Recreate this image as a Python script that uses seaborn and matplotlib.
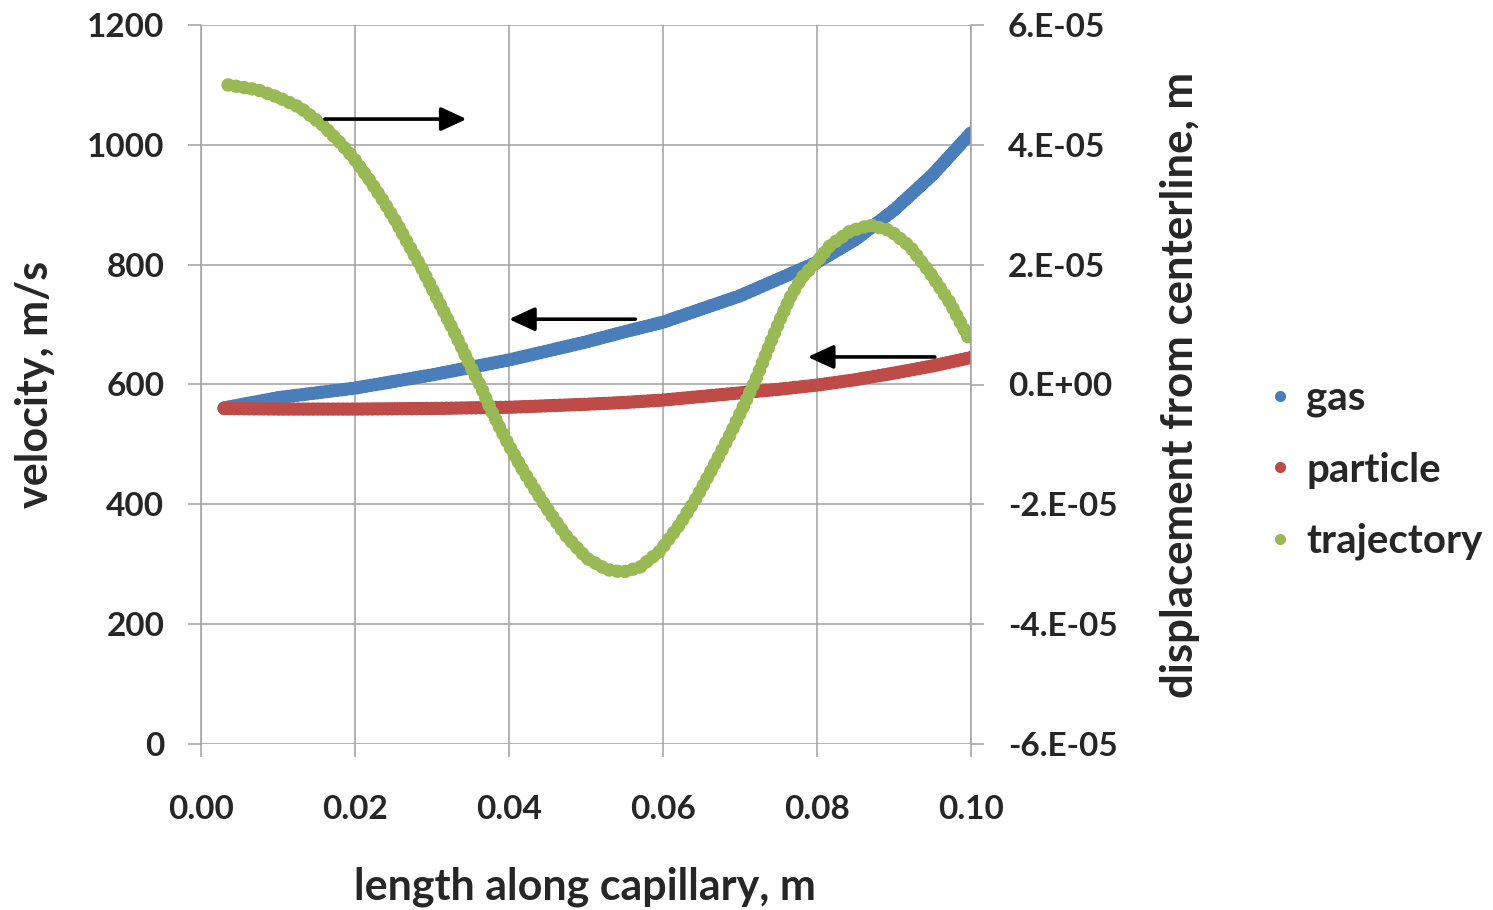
import matplotlib
matplotlib.use("Agg")
import matplotlib.pyplot as plt
from matplotlib.lines import Line2D
from matplotlib.ticker import FixedLocator
import seaborn as sns

sns.set_theme(style="white")
plt.rcParams["font.family"] = ["Lato", "DejaVu Sans"]
plt.rcParams["font.weight"] = "bold"

# =========================
# Data
# =========================
x_vel = [0.003, 0.01, 0.02, 0.03, 0.04, 0.05, 0.055, 0.06, 0.065, 0.07, 0.075,
         0.08, 0.085, 0.09, 0.095, 0.10]
gas = [561, 578, 594, 616, 641, 671, 688, 704, 726, 748, 776, 804, 842, 891, 950, 1020]
particle = [560, 559, 559, 560, 562, 567, 570, 574, 580, 586, 592, 599, 608, 619, 631, 645]

x_traj = [0.0035, 0.0073, 0.0099, 0.0129, 0.0158, 0.0181, 0.0197, 0.0219, 0.0236,
          0.0254, 0.0271, 0.0288, 0.0301, 0.0314, 0.0327, 0.0340, 0.0352, 0.0364,
          0.0375, 0.0388, 0.0401, 0.0418, 0.0436, 0.0453, 0.0475, 0.0501, 0.0527,
          0.0548, 0.0570, 0.0596, 0.0622, 0.0644, 0.0665, 0.0687, 0.0704, 0.0722,
          0.0739, 0.0752, 0.0765, 0.0780, 0.0800, 0.0817, 0.0843, 0.0869, 0.0895,
          0.0921, 0.0947, 0.0973, 0.1000]
trajectory_e5 = [5.00, 4.92, 4.80, 4.62, 4.33, 4.03, 3.80, 3.41, 3.08,
                 2.70, 2.30, 1.91, 1.58, 1.25, 0.92, 0.58, 0.25, -0.05,
                 -0.38, -0.72, -1.04, -1.43, -1.80, -2.14, -2.54, -2.90, -3.09,
                 -3.13, -3.05, -2.78, -2.33, -1.88, -1.38, -0.84, -0.38, 0.13,
                 0.68, 1.08, 1.45, 1.78, 2.05, 2.32, 2.56, 2.66, 2.57,
                 2.30, 1.86, 1.36, 0.70]
trajectory = [v * 1e-5 for v in trajectory_e5]

x_ticks = [0.00, 0.02, 0.04, 0.06, 0.08, 0.10]
x_ticklabels = ["0.00", "0.02", "0.04", "0.06", "0.08", "0.10"]
left_ticks = [0, 200, 400, 600, 800, 1000, 1200]
right_ticks = [-6e-5, -4e-5, -2e-5, 0, 2e-5, 4e-5, 6e-5]
right_ticklabels = ["-6.E-05", "-4.E-05", "-2.E-05", "0.E+00", "2.E-05", "4.E-05", "6.E-05"]

names = ["gas", "particle", "trajectory"]
colors = ["#4a7ebb", "#be4b48", "#98b954"]

# arrows: (x_start, x_end, y on velocity axis)
arrows = [(0.0161, 0.0345, 1043), (0.0564, 0.0400, 709), (0.0953, 0.0788, 646)]

# ========================
# PLOT
# ========================
fig = plt.figure(figsize=(14.93, 9.10), dpi=100)
ax = fig.add_axes([201 / 1493, 1 - 744 / 910, 770 / 1493, 719 / 910])
ax2 = ax.twinx()

dot_style = dict(linewidth=9.6, dash_capstyle="round", solid_capstyle="round")
sns.lineplot(x=x_vel, y=gas, ax=ax, color=colors[0], dashes=(0.05, 0.32), **dot_style)
sns.lineplot(x=x_vel, y=particle, ax=ax, color=colors[1], dashes=(0.05, 0.32), **dot_style)
sns.lineplot(x=x_traj, y=trajectory, ax=ax2, color=colors[2], dashes=(0.05, 0.55),
             **dot_style)

grid_c = "#a0a0a0"
ax.set_xlim(0, 0.10)
ax.set_ylim(0, 1200)
ax2.set_ylim(-6e-5, 6e-5)
ax.xaxis.set_major_locator(FixedLocator(x_ticks))
ax.set_xticklabels(x_ticklabels)
ax.yaxis.set_major_locator(FixedLocator(left_ticks))
ax2.yaxis.set_major_locator(FixedLocator(right_ticks))
ax2.set_yticklabels(right_ticklabels)
ax.grid(True, color=grid_c, linewidth=1.1)
ax.set_axisbelow(True)

for a in (ax, ax2):
    for s in a.spines.values():
        s.set_visible(False)
ax.spines["left"].set_visible(True)
ax.spines["left"].set_color(grid_c)
ax2.spines["right"].set_visible(True)
ax2.spines["right"].set_color(grid_c)
for s in (ax.spines["left"], ax2.spines["right"]):
    s.set_linewidth(1.1)

ax.tick_params(axis="y", direction="out", length=9.4, width=1.1, color=grid_c,
               pad=17, labelsize=24, left=True)
ax.tick_params(axis="x", direction="out", length=9.4, width=1.1, color=grid_c,
               pad=27, labelsize=24, bottom=True)
ax2.tick_params(axis="y", direction="out", length=9.4, width=1.1, color=grid_c,
                pad=17, labelsize=24, right=True)
for lab in ax.get_xticklabels() + ax.get_yticklabels() + ax2.get_yticklabels():
    lab.set_fontweight("bold")

ax.set_xlabel("length along capillary, m", fontsize=31, fontweight="bold")
ax.xaxis.set_label_coords(0.499, -0.199)
ax.xaxis.label.set_va("center")
ax.set_ylabel("velocity, m/s", fontsize=31, fontweight="bold", va="center")
ax.yaxis.set_label_coords(-0.2156, 0.5)
ax2.set_ylabel("displacement from centerline, m", fontsize=31.5, fontweight="bold",
               va="center", rotation=90)
ax2.yaxis.set_label_coords(1.271, 0.5)

for x0, x1, yv in arrows:
    ax2.annotate("", xy=(x1, yv), xytext=(x0, yv), xycoords=ax.transData,
                 textcoords=ax.transData,
                 arrowprops=dict(arrowstyle="-|>,head_length=1.3,head_width=0.6",
                                 color="black", lw=2.6, shrinkA=0, shrinkB=0))

handles = [Line2D([], [], marker="o", linestyle="none", color=c, markersize=7)
           for c in colors]
fig.legend(handles, names, loc="center left", bbox_to_anchor=(1264 / 1493, 1 - 470 / 910),
           frameon=False, prop={"weight": "bold", "size": 29},
           handlelength=0.8, handletextpad=0.25, labelspacing=0.85, borderpad=0,
           borderaxespad=0)

fig.savefig("out.png", dpi=100)
